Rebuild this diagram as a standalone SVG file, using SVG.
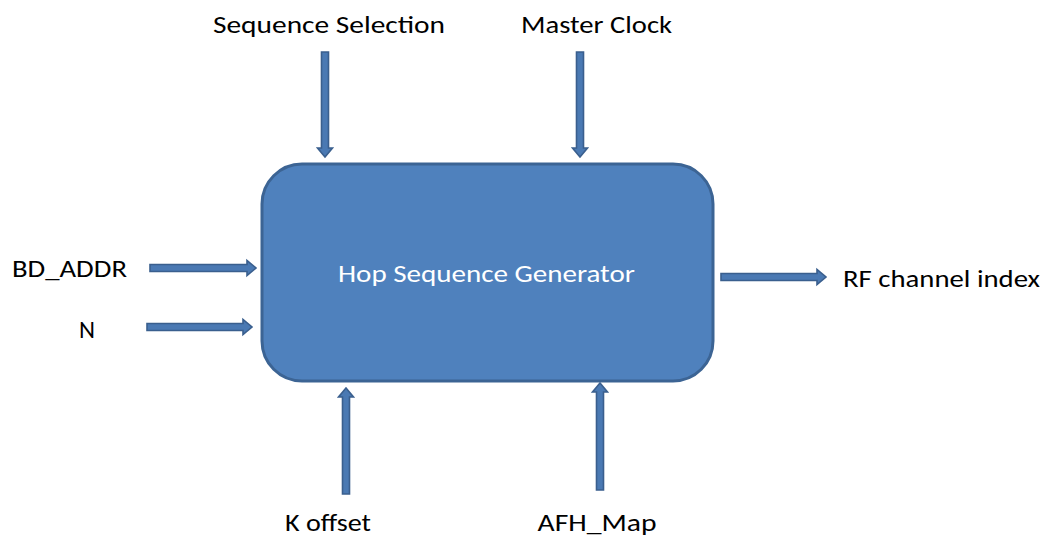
<svg xmlns="http://www.w3.org/2000/svg" width="1049" height="536" viewBox="0 0 1049 536">
  <style>
    .lbl { font-family: Carlito, "Liberation Sans", "DejaVu Sans", sans-serif; font-size: 24px; fill: #000; text-anchor: middle; }
    .in { fill: #fff; }
    .box { fill: #4f81bd; stroke: #3c6494; stroke-width: 3; }
    .arr { fill: #4a79b3; stroke: #3a5f8e; stroke-width: 1.6; stroke-linejoin: miter; }
  </style>
  <rect width="1049" height="536" fill="#fff"/>

  <!-- block arrows: shaft half-width 3.5, head half-width 7.5, head length 9 -->
  <g id="connectors">
    <!-- down into top edge -->
    <path class="arr" d="M321.5,52 H328.5 V148 H332.5 L325,157 L317.5,148 H321.5 Z"/>
    <path class="arr" d="M576.5,52 H583.5 V148 H587.5 L580,157 L572.5,148 H576.5 Z"/>
    <!-- right into left edge -->
    <path class="arr" d="M150,264.5 V271.5 H247 V275.5 L256,268 L247,260.5 V264.5 Z"/>
    <path class="arr" d="M147,323.5 V330.5 H243 V334.5 L252,327 L243,319.5 V323.5 Z"/>
    <!-- output -->
    <path class="arr" d="M721,273.5 V280.5 H817 V284.5 L826,277 L817,269.5 V273.5 Z"/>
    <!-- up into bottom edge -->
    <path class="arr" d="M342.5,494 H349.5 V397 H353.5 L346,388 L338.5,397 H342.5 Z"/>
    <path class="arr" d="M596.5,490 H603.5 V392 H607.5 L600,383 L592.5,392 H596.5 Z"/>
  </g>

  <g id="hop-sequence-generator">
    <rect class="box" x="262" y="164" width="451" height="217" rx="40" ry="40"/>
    <text class="lbl in" x="486.5" y="282" textLength="297" lengthAdjust="spacingAndGlyphs">Hop Sequence Generator</text>
  </g>

  <g id="sequence-selection">
    <text class="lbl" x="329" y="33" textLength="232" lengthAdjust="spacingAndGlyphs">Sequence Selection</text>
  </g>
  <g id="master-clock">
    <text class="lbl" x="596.5" y="33" textLength="151" lengthAdjust="spacingAndGlyphs">Master Clock</text>
  </g>
  <g id="bd-addr">
    <text class="lbl" x="69.5" y="277" textLength="115" lengthAdjust="spacingAndGlyphs">BD_ADDR</text>
  </g>
  <g id="n">
    <text class="lbl" x="87" y="338" textLength="16" lengthAdjust="spacingAndGlyphs">N</text>
  </g>
  <g id="rf-channel-index">
    <text class="lbl" x="941.5" y="287" textLength="197" lengthAdjust="spacingAndGlyphs">RF channel index</text>
  </g>
  <g id="k-offset">
    <text class="lbl" x="328" y="531" textLength="86" lengthAdjust="spacingAndGlyphs">K offset</text>
  </g>
  <g id="afh-map">
    <text class="lbl" x="597" y="531" textLength="119" lengthAdjust="spacingAndGlyphs">AFH_Map</text>
  </g>
</svg>
